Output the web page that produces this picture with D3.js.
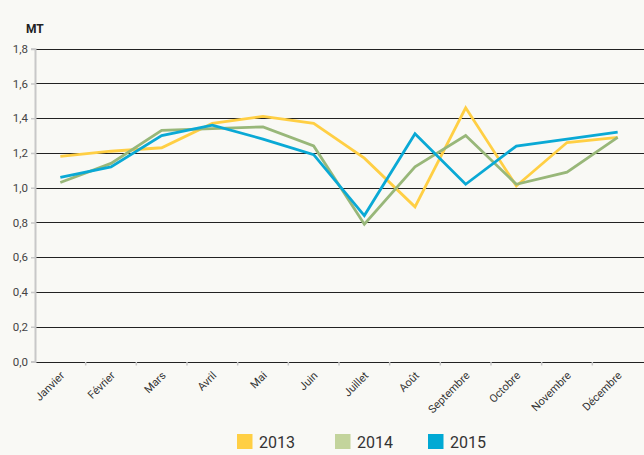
<!DOCTYPE html>
<html><head><meta charset="utf-8">
<script src="https://cdn.jsdelivr.net/npm/d3@7"></script>
<style>
html,body{margin:0;padding:0;background:#f9f9f5;}
svg{display:block;}
</style></head>
<body>
<svg id="chart" width="644" height="455"></svg>
<script>
const months = ["Janvier","Février","Mars","Avril","Mai","Juin","Juillet","Août","Septembre","Octobre","Novembre","Décembre"];
const years = ["2013","2014","2015"];
const values2013 = [1.18,1.21,1.23,1.37,1.41,1.37,1.17,0.89,1.46,1.01,1.26,1.29];
const values2014 = [1.03,1.14,1.33,1.34,1.35,1.24,0.79,1.12,1.30,1.02,1.09,1.29];
const values2015 = [1.06,1.12,1.30,1.36,1.28,1.19,0.84,1.31,1.02,1.24,1.28,1.32];
const yTicks = [0,0.2,0.4,0.6,0.8,1.0,1.2,1.4,1.6,1.8];
const lineColors = ["#ffcf44","#98b779","#0aa9d5"];
const swatchColors = ["#ffcf44","#c3d49c","#00a9d4"];

(function(){
const series = [values2013, values2014, values2015];
const svg = d3.select("#chart");
const mLeft = 35, mRight = 643, mTop = 48.7, mBottom = 361.5;
const x = d3.scaleBand().domain(months).range([mLeft, mRight]);
const y = d3.scaleLinear().domain([0, 1.8]).range([mBottom, mTop]);
const fmt = v => d3.format(".1f")(v).replace(".", ",");
const font = "'Liberation Sans Narrow','Roboto','DejaVu Sans Condensed',sans-serif";

svg.append("g").selectAll("line").data(yTicks).join("line")
  .attr("x1", mLeft).attr("x2", 644)
  .attr("y1", d => Math.round(y(d)) + 0.5).attr("y2", d => Math.round(y(d)) + 0.5)
  .attr("stroke", "#222").attr("stroke-width", 1.2);

const yAxis = svg.append("g").attr("transform", `translate(${mLeft},0)`)
  .call(d3.axisLeft(y).tickValues(yTicks).tickFormat(fmt).tickSize(4).tickPadding(3));
yAxis.select(".domain").attr("stroke", "#c8c8c8").attr("stroke-width", 2);
yAxis.selectAll(".tick line").attr("stroke", "#c8c8c8").attr("stroke-width", 1.5);
yAxis.selectAll(".tick text").attr("font-family", font).attr("font-size", 11.5).attr("fill", "#444");

const xAxis = svg.append("g").attr("transform", `translate(0,${mBottom})`)
  .call(d3.axisBottom(x).tickSize(0).tickPadding(0));
xAxis.select(".domain").remove();
xAxis.selectAll(".tick text")
  .attr("font-family", font).attr("font-size", 11).attr("fill", "#333")
  .attr("text-anchor", "end")
  .attr("transform", "translate(2,12) rotate(-45)")
  .attr("dy", "0.35em");
svg.append("g").selectAll("line").data(months.slice(1)).join("line")
  .attr("x1", d => x(d)).attr("x2", d => x(d))
  .attr("y1", mBottom + 0.5).attr("y2", mBottom + 4)
  .attr("stroke", "#c8c8c8").attr("stroke-width", 1.5);

const line = d3.line().x((d, i) => x(months[i]) + x.bandwidth() / 2).y(d => y(d));
svg.append("g").selectAll("path").data(series).join("path")
  .attr("d", line).attr("fill", "none")
  .attr("stroke", (d, i) => lineColors[i]).attr("stroke-width", 2.8)
  .attr("stroke-linejoin", "miter");

svg.append("text").attr("x", 26).attr("y", 33).text("MT")
  .attr("font-family", font).attr("font-weight", "bold").attr("font-size", 12).attr("fill", "#222");

const legX = [237, 335, 428];
const leg = svg.append("g").selectAll("g").data(years).join("g")
  .attr("transform", (d, i) => `translate(${legX[i]},434)`);
leg.append("rect").attr("width", 15.5).attr("height", 15).attr("fill", (d, i) => swatchColors[i]);
leg.append("text").attr("x", 22).attr("y", 14).text(d => d)
  .attr("font-family", font).attr("font-size", 16).attr("fill", "#333");
})();
</script>
</body></html>
